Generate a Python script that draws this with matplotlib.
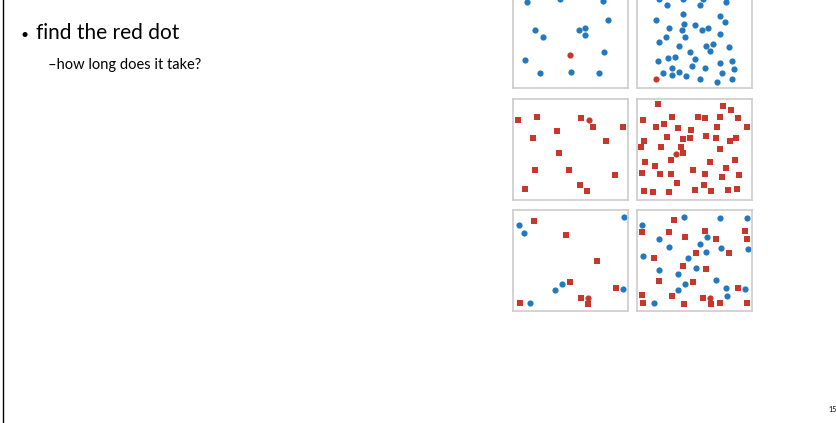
import matplotlib.pyplot as plt

# slide: "find the red dot" - six small search panels
# point positions are in panel pixels (115 x 101, y grows downwards)
blue = '#2279c0'
red = '#c8372b'

p1_blue_x = [13.7, 47, 89.7, 94.7, 22.3, 30, 66, 72.3, 72.3, 91, 11.7, 27.3, 58.3, 85.7]
p1_blue_y = [15.3, 12, 14.3, 32.7, 43.3, 50.3, 43.3, 40.7, 47.7, 64.7, 73, 86.3, 85, 86.3]
p1_dot = (56.7, 68)

p2_blue_x = [22.3, 46.3, 66.3, 30, 63.3, 88.7, 45.7, 18.7, 82.7, 88.3, 47.3, 58, 31.7, 44.7, 65,
             71.3, 82.7, 29, 47.7, 22.3, 41.7, 68.7, 76, 73.3, 92.3, 53.3, 21, 31, 38.3, 58,
             83, 95, 55.3, 35.3, 67.7, 97.3, 26, 41.7, 35.3, 49, 84.7, 63.3, 80, 95.3]
p2_blue_y = [12.3, 12.3, 12.3, 18.3, 18.3, 14.7, 26.7, 32.7, 29.3, 35.3, 37, 38, 41, 43.3, 43.3,
             40.7, 47.3, 50.3, 50, 54.7, 59, 59, 57.3, 64, 60.3, 64.7, 74.3, 71.3, 69.7, 72.3,
             76.3, 74.3, 79, 81.3, 81, 82, 86.3, 85.3, 88.3, 89, 86.3, 92.3, 95, 92]
p2_dot = (18.7, 92)

p3_sq_x = [5.3, 24.3, 68.3, 80.3, 110.3, 44.3, 20.3, 93.3, 46.3, 22.3, 56.3, 102.3, 12.3, 67.3, 74.3]
p3_sq_y = [21.3, 18.3, 19.3, 28.3, 28.3, 32.3, 39.3, 42.3, 54.3, 71.3, 71.3, 76.3, 90.3, 86.3, 92.3]
p3_dot = (75.7, 21)

p4_sq_x = [21.3, 86.3, 94.3, 6.3, 35.3, 61.3, 68.3, 83.3, 101.3, 19.3, 27.3, 41.3, 54.3, 80.3, 110.3,
           30.3, 46.3, 53.3, 69.3, 79.3, 93.3, 99.3, 7.3, 4.3, 24.3, 44.3, 46.3, 83.3, 8.3, 18.3,
           34.3, 73.3, 98.3, 5.3, 23.3, 34.3, 56.3, 68.3, 89.3, 85.3, 102.3, 40.3, 67.3, 7.3, 16.3,
           32.3, 58.3, 74.3, 91.3, 100.3]
p4_sq_y = [5.3, 7.3, 11.3, 21.3, 18.3, 18.3, 19.3, 18.3, 19.3, 28.3, 25.3, 29.3, 31.3, 28.3, 28.3,
           38.3, 40.3, 39.3, 37.3, 39.3, 42.3, 39.3, 42.3, 48.3, 48.3, 48.3, 54.3, 50.3, 63.3, 67.3,
           61.3, 63.3, 61.3, 74.3, 75.3, 75.3, 71.3, 75.3, 69.3, 78.3, 76.3, 84.3, 86.3, 92.3, 93.3,
           93.3, 91.3, 92.3, 91.3, 90.3]
p4_dot = (38.7, 54.7)

p5_blue_x = [5.7, 11, 111, 49, 41.7, 17.3, 109.7]
p5_blue_y = [14.7, 22.7, 7.3, 73.7, 79.7, 92.7, 79.3]
p5_sq_x = [21.3, 53.3, 84.3, 57.3, 103.3, 7.3, 68.3, 75.3]
p5_sq_y = [11.3, 25.3, 51.3, 72.3, 78.3, 93.3, 88.3, 94.3]
p5_dot = (74.7, 88)

p6_blue_x = [46.7, 83, 109.7, 5, 22.3, 70.3, 32.3, 63, 69, 84, 110.7, 6, 51.3, 59, 22.3, 41.3,
             79, 48.3, 89, 108.3, 41, 90.3, 16.7]
p6_blue_y = [6.7, 8, 8, 15.3, 29.3, 27.3, 37.3, 33.7, 41.7, 38.3, 38.7, 46, 48.3, 57.7, 60, 64.3,
             69.7, 73.7, 77.7, 79.3, 79.7, 85.7, 92.7]
p6_sq_x = [37.3, 5.3, 32.3, 68.3, 108.3, 48.3, 79.3, 110.3, 59.3, 92.3, 17.3, 46.3, 69.3, 22.3,
           56.3, 101.3, 5.3, 35.3, 66.3, 6.3, 47.3, 74.3, 83.3, 110.3]
p6_sq_y = [10.3, 22.3, 22.3, 21.3, 21.3, 27.3, 29.3, 29.3, 43.3, 43.3, 48.3, 56.3, 59.3, 71.3,
           72.3, 78.3, 85.3, 86.3, 88.3, 93.3, 94.3, 94.3, 93.3, 93.3]
p6_dot = (73.3, 88)

# (left, top) of each panel in slide pixels
panel_pos = [(513, -13), (637, -13), (513, 99), (637, 99), (513, 210), (637, 210)]
panels = [
    (p1_blue_x, p1_blue_y, [], [], p1_dot),
    (p2_blue_x, p2_blue_y, [], [], p2_dot),
    ([], [], p3_sq_x, p3_sq_y, p3_dot),
    ([], [], p4_sq_x, p4_sq_y, p4_dot),
    (p5_blue_x, p5_blue_y, p5_sq_x, p5_sq_y, p5_dot),
    (p6_blue_x, p6_blue_y, p6_sq_x, p6_sq_y, p6_dot),
]

W, H = 837, 423
PW, PH = 115, 101
fig = plt.figure(figsize=(W / 100, H / 100), dpi=100)

for (left, top), (bx, by, sx, sy, dot) in zip(panel_pos, panels):
    ax = fig.add_axes([left / W, (H - top - PH) / H, PW / W, PH / H])
    ax.set_xlim(0, PW)
    ax.set_ylim(PH, 0)
    ax.scatter(bx, by, s=20, c=blue, marker='o', linewidths=0)
    ax.scatter(sx, sy, s=17, c=red, marker='s', linewidths=0)
    ax.scatter([dot[0]], [dot[1]], s=20, c=red, marker='o', linewidths=0)
    ax.set_xticks([])
    ax.set_yticks([])
    for sp in ax.spines.values():
        sp.set_color('#cccccc')
        sp.set_linewidth(1.2)

# slide text
fig.text(21 / W, 1 - 39 / H, '\u2022', fontsize=10, family='Lato', va='baseline', ha='left')
fig.text(36 / W, 1 - 39 / H, 'find the red dot', fontsize=15, family='Lato',
         va='baseline', ha='left')
fig.text(48 / W, 1 - 69 / H, '\u2013how long does it take?', fontsize=10.5, family='Lato',
         va='baseline', ha='left')
fig.text(828 / W, 1 - 412 / H, '15', fontsize=5, family='Lato', va='baseline', ha='left')

# left edge rule of the slide
fig.add_artist(plt.Line2D([3 / W, 3 / W], [0, 1], color='black', linewidth=1,
                          transform=fig.transFigure))

fig.savefig('out.png', dpi=100)
